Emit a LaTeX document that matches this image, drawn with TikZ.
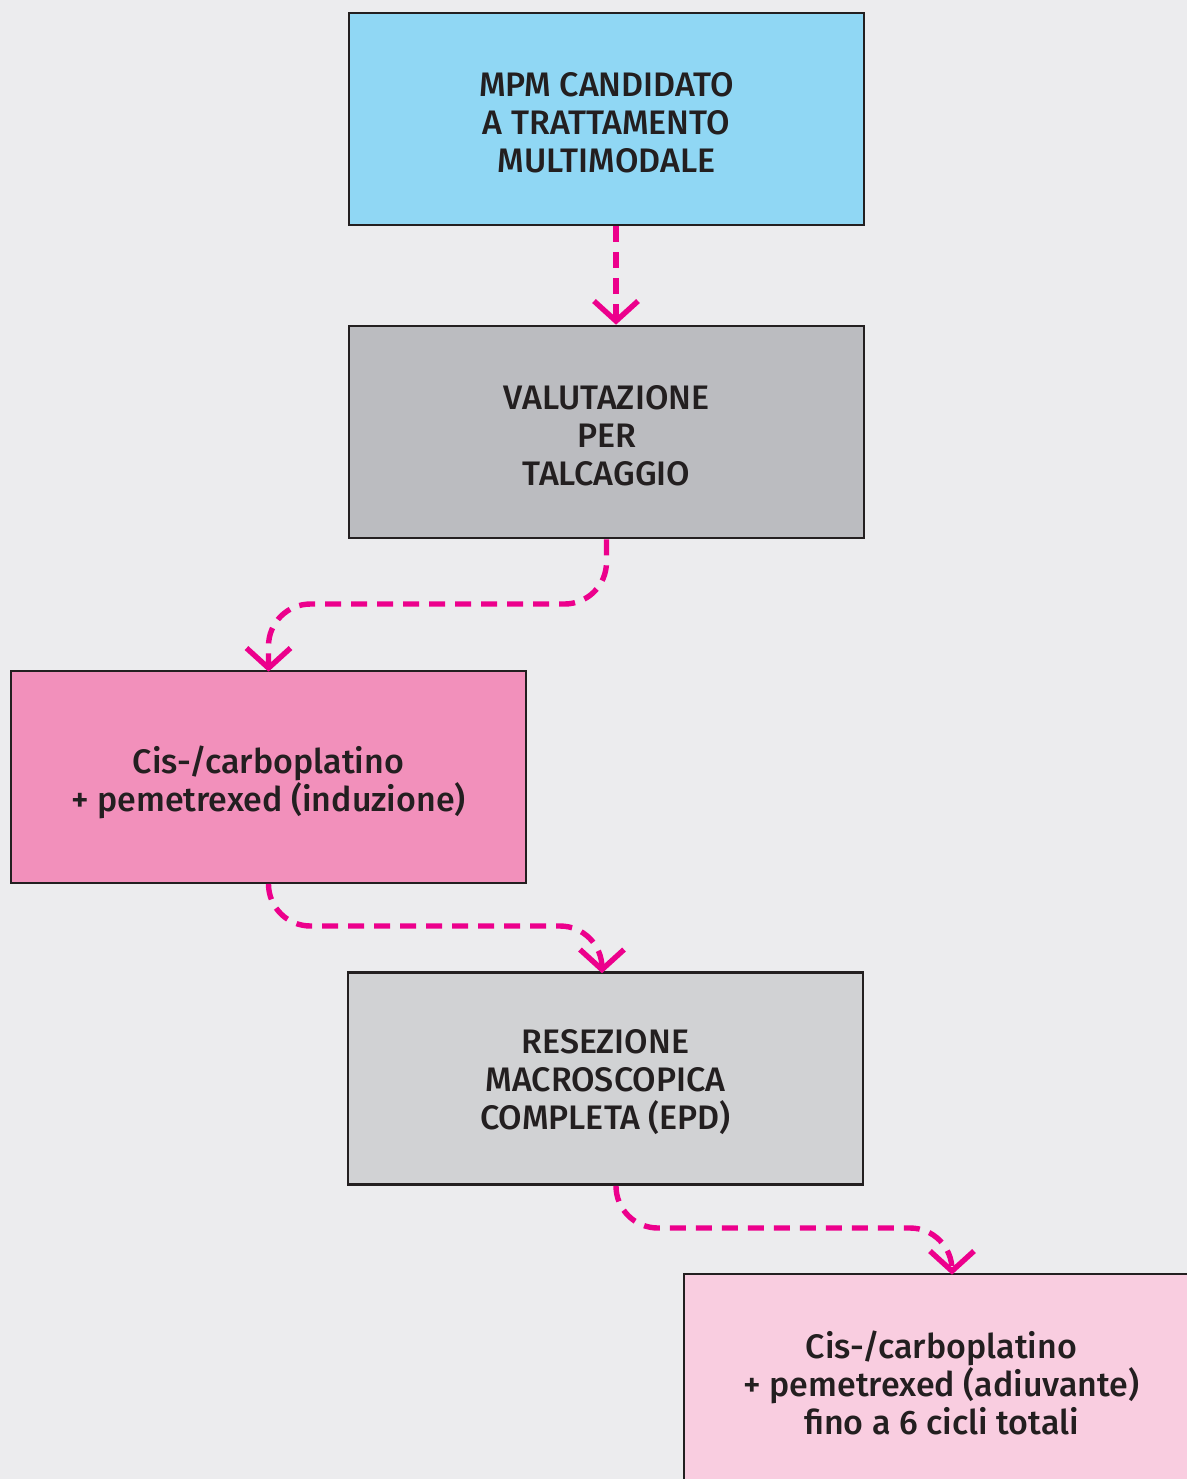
\documentclass[tikz,border=0pt]{standalone}
\usepackage{fontspec}
\setmainfont{Fira Sans}[UprightFont={* Medium}]
\usetikzlibrary{arrows.meta}
\definecolor{bg}{HTML}{ECECEE}
\definecolor{blueb}{HTML}{90D7F4}
\definecolor{greyb}{HTML}{BBBCC0}
\definecolor{lgreyb}{HTML}{D1D2D4}
\definecolor{pinkb}{HTML}{F290BB}
\definecolor{lpinkb}{HTML}{F9CDE0}
\definecolor{mag}{HTML}{EC008C}
\definecolor{ink}{HTML}{231F20}
\tikzset{
  boxst/.style={draw=ink, line width=1.3pt, rectangle, minimum width=257.5pt, minimum height=106pt,
    inner sep=0pt},
  txtst/.style={inner sep=0pt, align=center, text=ink, font=\fontsize{17}{19}\selectfont},
  flow/.style={draw=mag, line width=2.7pt, dash pattern=on 8pt off 5pt, rounded corners=21pt,
    -{Straight Barb[length=10pt,width=22pt,line width=2.7pt]}}
}
\begin{document}
\begin{tikzpicture}[x=0.5pt,y=-0.5pt]
\fill[bg] (0,0) rectangle (1187,1479);
\useasboundingbox (0,0) rectangle (1187,1479);
\begin{scope}
\clip (0,0) rectangle (1187,1479);
\node[boxst, fill=blueb] (b1) at (606.5,119) {};
\node[boxst, fill=greyb] (b2) at (606.5,432) {};
\node[boxst, fill=pinkb] (b3) at (268.5,777) {};
\node[boxst, fill=lgreyb] (b4) at (605.5,1078.5) {};
\node[boxst, fill=lpinkb] (b5) at (941.5,1380) {};
\node[txtst] (t1) at ([yshift=-2pt]b1.center) {MPM CANDIDATO\\A TRATTAMENTO\\MULTIMODALE};
\node[txtst] (t2) at ([yshift=-2pt]b2.center) {VALUTAZIONE\\PER\\TALCAGGIO};
\node[txtst] (t3) at ([yshift=-2.5pt]b3.center) {Cis-/carboplatino\\+ pemetrexed (induzione)};
\node[txtst] (t4) at ([yshift=-2pt]b4.center) {RESEZIONE\\MACROSCOPICA\\COMPLETA (EPD)};
\node[txtst] (t5) at ([yshift=-1.5pt]b5.center) {Cis-/carboplatino\\+ pemetrexed (adiuvante)\\fino a 6 cicli totali};
\end{scope}
\coordinate (h2) at (0,604);
\coordinate (h3) at (0,926);
\coordinate (h4) at (0,1228);
\draw[flow, rounded corners=0pt] ([xshift=4.75pt]b1.south) -- ([xshift=4.75pt]b2.north);
\draw[flow] (b2.south) |- (h2 -| b3.north) -- ([yshift=-1pt]b3.north);
\draw[flow] (b3.south) |- ([xshift=-1.75pt]h3 -| b4.north) -- ([xshift=-1.75pt,yshift=-1pt]b4.north);
\draw[flow] ([xshift=5.25pt]b4.south) |- ([xshift=5.25pt]h4 -| b5.north) -- ([xshift=5.25pt,yshift=-1pt]b5.north);
\end{tikzpicture}
\end{document}
